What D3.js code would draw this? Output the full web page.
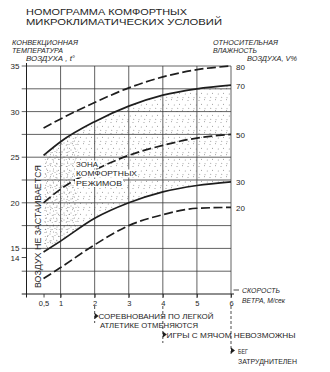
<!DOCTYPE html>
<html>
<head>
<meta charset="utf-8">
<script src="https://cdn.jsdelivr.net/npm/d3@7"></script>
<style>
  body { margin: 0; background: #fff; }
  svg { display: block; font-family: "Liberation Sans", Arial, sans-serif; }
</style>
</head>
<body>
<script>
// ---- data ----
const windSpeed = [0.5, 1, 2, 3, 4, 5, 6];
const humidity80 = [28.2, 29.2, 31.0, 32.6, 33.8, 34.6, 35.0];
const humidity70 = [25.2, 26.7, 28.9, 30.6, 31.8, 32.5, 32.9];
const humidity50 = [20.0, 21.5, 23.6, 25.2, 26.3, 27.1, 27.5];
const humidity30 = [14.6, 15.8, 18.3, 20.0, 21.2, 21.9, 22.3];
const humidity20 = [11.7, 12.9, 15.4, 17.5, 18.7, 19.4, 19.5];
const curveLabels = ["80", "70", "50", "30", "20"];
const curveDashed = [true, false, true, false, true];
const xTickValues = [0.5, 1, 2, 3, 4, 5, 6];
const xTickLabels = ["0,5", "1", "2", "3", "4", "5", "6"];
const yLabelValues = [35, 30, 25, 20, 15, 14];
const noteSpeeds = [2, 4, 6];

const W = 330, H = 372;
const svg = d3.select("body").append("svg").attr("width", W).attr("height", H);
const ink = "#1e1e1e";

const x = d3.scaleLinear().domain([0, 6]).range([26.5, 231]);
const y = d3.scaleLinear().domain([10, 35]).range([294, 66]);

// ---- patterns ----
const defs = svg.append("defs");
const p1 = defs.append("pattern").attr("id", "dots").attr("patternUnits", "userSpaceOnUse")
  .attr("width", 11).attr("height", 11);
[[1, 1.5], [6.5, 0.8], [3.6, 5.2], [9.2, 6.0], [1.8, 9.2], [7.0, 9.8]].forEach(d =>
  p1.append("circle").attr("cx", d[0]).attr("cy", d[1]).attr("r", 0.45).attr("fill", "#444"));
const p2 = defs.append("pattern").attr("id", "dots2").attr("patternUnits", "userSpaceOnUse")
  .attr("width", 7).attr("height", 7);
[[1.0, 3.0], [4.6, 1.0], [3.2, 5.6], [6.0, 4.4]].forEach(d =>
  p2.append("circle").attr("cx", d[0]).attr("cy", d[1]).attr("r", 0.42).attr("fill", "#444"));
defs.append("clipPath").attr("id", "leftClip").append("rect")
  .attr("x", x(0.5)).attr("y", 0).attr("width", x(1.5) - x(0.5)).attr("height", H);

// ---- comfort zone ----
const zone = windSpeed.map((s, i) => ({ s, top: humidity70[i], bot: humidity30[i] }));
const area = d3.area().x(d => x(d.s)).y0(d => y(d.bot)).y1(d => y(d.top)).curve(d3.curveMonotoneX);
svg.append("path").datum(zone).attr("d", area).attr("fill", "url(#dots)");
svg.append("path").datum(zone).attr("d", area).attr("fill", "url(#dots2)").attr("clip-path", "url(#leftClip)");

// ---- grid ----
const grid = svg.append("g").attr("stroke", "#3a3a3a").attr("stroke-width", 0.8);
d3.range(12.5, 35.01, 2.5).forEach(v =>
  grid.append("line").attr("x1", 21.7).attr("x2", x(6)).attr("y1", y(v)).attr("y2", y(v)));
[1, 2, 3, 4, 5, 6].forEach(v =>
  grid.append("line").attr("x1", x(v)).attr("x2", x(v)).attr("y1", y(35)).attr("y2", y(10) + 4));

// ---- axes ----
const yAxis = d3.axisLeft(y).tickValues(yLabelValues).tickSize(0).tickPadding(7)
  .tickFormat(d => String(d));
const gy = svg.append("g").attr("transform", `translate(${x(0)},0)`).call(yAxis);
gy.select(".domain").remove();
gy.selectAll("text").attr("font-size", 8).attr("fill", ink);
svg.append("line").attr("x1", x(0) - 4.8).attr("x2", x(0)).attr("y1", y(14)).attr("y2", y(14))
  .attr("stroke", ink).attr("stroke-width", 0.8);
svg.append("line").attr("x1", x(0)).attr("x2", x(0)).attr("y1", y(35) - 3).attr("y2", y(10) + 3.5)
  .attr("stroke", ink).attr("stroke-width", 1);

const xAxis = d3.axisBottom(x).tickValues(xTickValues).tickSize(3.5).tickPadding(3)
  .tickFormat((d, i) => xTickLabels[i]);
const gx = svg.append("g").attr("transform", `translate(0,${y(10)})`).call(xAxis);
gx.select(".domain").remove();
gx.selectAll("line").attr("stroke", ink).attr("stroke-width", 0.8);
gx.selectAll("text").attr("font-size", 7.5).attr("fill", ink);
svg.append("line").attr("x1", 21.7).attr("x2", x(6) + 3).attr("y1", y(10)).attr("y2", y(10))
  .attr("stroke", ink).attr("stroke-width", 1.1);
svg.append("line").attr("x1", x(6) + 2.5).attr("x2", x(6) + 8).attr("y1", y(10) - 4).attr("y2", y(10) - 4)
  .attr("stroke", ink).attr("stroke-width", 0.8);

// ---- curves ----
const series = [humidity80, humidity70, humidity50, humidity30, humidity20];
const line = d3.line().x(d => x(d.s)).y(d => y(d.v)).curve(d3.curveMonotoneX);
series.forEach((vals, k) => {
  const pts = windSpeed.map((s, i) => ({ s, v: vals[i] }));
  svg.append("path").datum(pts).attr("d", line).attr("fill", "none")
    .attr("stroke", ink).attr("stroke-width", 1.7)
    .attr("stroke-dasharray", curveDashed[k] ? "9,3.5" : null);
  svg.append("text").attr("x", x(6) + 5).attr("y", y(vals[vals.length - 1]) + 3.5)
    .attr("font-size", 8).attr("fill", ink).text(curveLabels[k]);
});

// ---- zone label with white backing ----
const zoneLines = [["ЗОНА", 167, 22], ["КОМФОРТНЫХ", 176, 61], ["РЕЖИМОВ", 185.5, 46]];
zoneLines.forEach(d => {
  svg.append("rect").attr("x", 75).attr("y", d[1] - 6.5).attr("width", d[2] + 2).attr("height", 8).attr("fill", "#fff");
});
zoneLines.forEach(d => {
  svg.append("text").attr("x", 76).attr("y", d[1]).attr("font-size", 7.5).attr("fill", ink)
    .attr("textLength", d[2]).attr("lengthAdjust", "spacingAndGlyphs").text(d[0]);
});

// ---- vertical label ----
svg.append("text").attr("transform", `translate(40.5,288) rotate(-90)`)
  .attr("font-size", 9.5).attr("fill", ink).attr("textLength", 123).attr("lengthAdjust", "spacingAndGlyphs")
  .text("ВОЗДУХ НЕ ЗАСТАИВАЕТСЯ");

// ---- titles ----
function txt(t, xx, yy, size, len, italic) {
  const e = svg.append("text").attr("x", xx).attr("y", yy).attr("font-size", size).attr("fill", ink)
    .attr("textLength", len).attr("lengthAdjust", "spacingAndGlyphs").text(t);
  if (italic) e.attr("font-style", "italic");
  return e;
}
txt("НОМОГРАММА КОМФОРТНЫХ", 26, 15, 9.6, 161);
txt("МИКРОКЛИМАТИЧЕСКИХ УСЛОВИЙ", 26, 25, 9.6, 196);
txt("КОНВЕКЦИОННАЯ", 12, 45, 7, 66, true);
txt("ТЕМПЕРАТУРА", 12, 52.5, 7, 51, true);
txt("ВОЗДУХА , t°", 26, 61, 7, 49, true);
txt("ОТНОСИТЕЛЬНАЯ", 213, 45, 7, 65, true);
txt("ВЛАЖНОСТЬ", 213, 52.5, 7, 44, true);
txt("ВОЗДУХА, V%", 247, 61, 7, 50, true);
txt("СКОРОСТЬ", 242, 293, 7, 38, true);
txt("ВЕТРА, М/сек", 242, 303, 7, 43, true);

// ---- notes ----
const noteEnds = [323, 343, 356];
const noteTri = [316, 334.5, 350.5];
noteSpeeds.forEach((s, i) => {
  svg.append("line").attr("x1", x(s)).attr("x2", x(s)).attr("y1", 306).attr("y2", noteEnds[i])
    .attr("stroke", ink).attr("stroke-width", 0.8).attr("stroke-dasharray", "3,2");
  const cx = x(s), cy = noteTri[i];
  svg.append("path").attr("d", `M${cx},${cy - 3}L${cx + 4},${cy}L${cx},${cy + 3}Z`).attr("fill", ink);
});
txt("СОРЕВНОВАНИЯ ПО ЛЕГКОЙ", 98.5, 319, 7.5, 115);
txt("АТЛЕТИКЕ ОТМЕНЯЮТСЯ", 100, 327.5, 7.5, 98);
txt("ИГРЫ С МЯЧОМ  НЕВОЗМОЖНЫ", 166.5, 337.5, 7.5, 129);
txt("БЕГ", 238, 353.5, 7.5, 10);
txt("ЗАТРУДНИТЕЛЕН", 238, 363.5, 7.5, 59);
</script>
</body>
</html>
